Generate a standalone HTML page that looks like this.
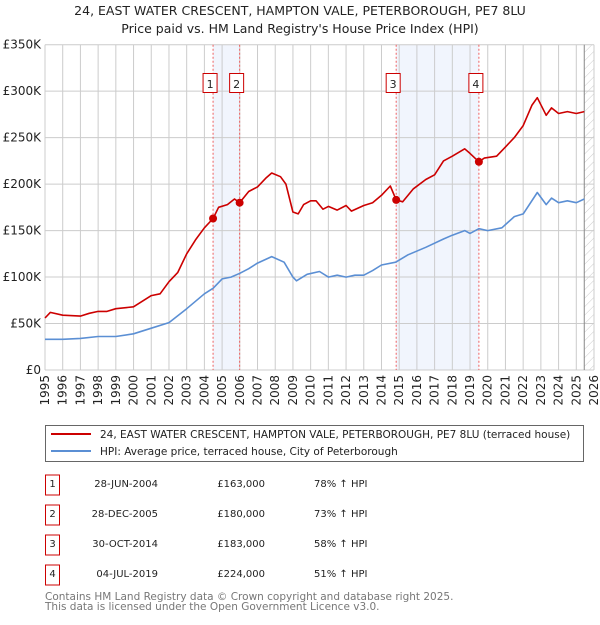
<!DOCTYPE html>
<html><head><meta charset="utf-8"><style>
body{margin:0;background:#fff;font-family:"Liberation Sans","DejaVu Sans",sans-serif;}
svg text{font-family:"DejaVu Sans","Liberation Sans",sans-serif;}
</style></head><body>
<svg id="chart" width="600" height="620" viewBox="0 0 600 620" xmlns="http://www.w3.org/2000/svg">
<defs><pattern id="hatch" width="6" height="6" patternUnits="userSpaceOnUse" patternTransform="rotate(45)"><line x1="0" y1="0" x2="0" y2="6" stroke="#ccc" stroke-width="1"/></pattern></defs>
<text x="300" y="15" text-anchor="middle" font-size="12.5" fill="#222">24, EAST WATER CRESCENT, HAMPTON VALE, PETERBOROUGH, PE7 8LU</text>
<text x="300" y="33" text-anchor="middle" font-size="12.5" fill="#222">Price paid vs. HM Land Registry's House Price Index (HPI)</text>
<g id="plot"></g>
<g id="legend">
<rect x="45.5" y="425.5" width="538" height="36" fill="#fff" stroke="#666"/>
<line x1="51" y1="434" x2="91" y2="434" stroke="#cc0000" stroke-width="2"/>
<text x="100" y="438" font-size="10.5" fill="#222">24, EAST WATER CRESCENT, HAMPTON VALE, PETERBOROUGH, PE7 8LU (terraced house)</text>
<line x1="51" y1="451" x2="91" y2="451" stroke="#5b8fd4" stroke-width="2"/>
<text x="100" y="455" font-size="10.5" fill="#222">HPI: Average price, terraced house, City of Peterborough</text>
</g>
<g id="table" font-size="10" fill="#222"></g>
<text x="45" y="600" font-size="10.5" fill="#777">Contains HM Land Registry data © Crown copyright and database right 2025.</text>
<text x="45" y="610" font-size="10.5" fill="#777">This data is licensed under the Open Government Licence v3.0.</text>
</svg>
<script>
const redT=[1995,1995.3,1996,1997,1997.5,1998,1998.5,1999,2000,2000.5,2001,2001.5,2002,2002.5,2003,2003.5,2004,2004.49,2004.8,2005.3,2005.7,2005.99,2006.5,2007,2007.5,2007.8,2008.3,2008.6,2009,2009.3,2009.6,2010,2010.3,2010.7,2011,2011.5,2012,2012.3,2013,2013.5,2014,2014.5,2014.83,2015.2,2015.8,2016.5,2017,2017.5,2018,2018.7,2019,2019.5,2019.8,2020.5,2021,2021.5,2022,2022.5,2022.8,2023.3,2023.6,2024,2024.5,2025,2025.45];
const redV=[56,62,59,58,61,63,63,66,68,74,80,82,95,105,125,140,153,163,175,178,184,180,192,197,207,212,208,200,170,168,178,182,182,173,176,172,177,171,177,180,188,198,183,181,195,205,210,225,230,238,233,224,228,230,240,250,263,285,293,274,282,276,278,276,278];
const blueT=[1995,1996,1997,1998,1999,2000,2001,2002,2003,2004,2004.5,2005,2005.5,2006,2006.5,2007,2007.8,2008.5,2009,2009.2,2009.8,2010.5,2011,2011.5,2012,2012.5,2013,2013.5,2014,2014.8,2015.5,2016.5,2017.5,2018,2018.7,2019,2019.5,2020,2020.8,2021.5,2022,2022.8,2023.3,2023.6,2024,2024.5,2025,2025.45];
const blueV=[33,33,34,36,36,39,45,51,66,82,88,98,100,104,109,115,122,116,100,96,103,106,100,102,100,102,102,107,113,116,124,132,141,145,150,147,152,150,153,165,168,191,178,185,180,182,180,184];
const saleT=[2004.49,2005.99,2014.83,2019.5];
const saleV=[163,180,183,224];
const saleLabels=["1","2","3","4"];
const saleDates=["28-JUN-2004","28-DEC-2005","30-OCT-2014","04-JUL-2019"];
const salePrices=["£163,000","£180,000","£183,000","£224,000"];
const saleHpi=["78% ↑ HPI","73% ↑ HPI","58% ↑ HPI","51% ↑ HPI"];
const yTicks=[0,50,100,150,200,250,300,350];
const yTickLabels=["£0","£50K","£100K","£150K","£200K","£250K","£300K","£350K"];
const xYears=[1995,1996,1997,1998,1999,2000,2001,2002,2003,2004,2005,2006,2007,2008,2009,2010,2011,2012,2013,2014,2015,2016,2017,2018,2019,2020,2021,2022,2023,2024,2025,2026];

const NS="http://www.w3.org/2000/svg";
const L=45,R=594,T=44.7,B=370;
const xs=y=>L+(y-1995)/(2026-1995)*(R-L);
const ys=v=>B-v/350*(B-T);
function mk(tag,attrs,parent){const e=document.createElementNS(NS,tag);for(const k in attrs)e.setAttribute(k,attrs[k]);parent.appendChild(e);return e;}
const plot=document.getElementById('plot');
for(let i=0;i<4;i+=2){
 const r=mk('rect',{x:xs(saleT[i]),y:T,width:xs(saleT[i+1])-xs(saleT[i]),height:B-T,fill:'#eef3fc',opacity:0.8},plot);
 
 
}
const h=mk('rect',{x:xs(2025.45),y:T,width:R-xs(2025.45),height:B-T,fill:'url(#hatch)'},plot);


yTicks.forEach((v,i)=>{
 const g=mk('line',{x1:L,x2:R,y1:ys(v),y2:ys(v),stroke:'#ccc','stroke-width':1},plot);
 
 
 const t=mk('text',{x:L-4,y:ys(v)+4,'text-anchor':'end','font-size':12,fill:'#222'},plot);
 t.textContent=yTickLabels[i];
 
 
});
xYears.forEach(y=>{
 const g=mk('line',{x1:xs(y),x2:xs(y),y1:T,y2:B,stroke:'#ccc','stroke-width':1},plot);
 
 
 const t=mk('text',{x:0,y:0,'text-anchor':'end','font-size':12,fill:'#222',transform:`translate(${xs(y)+4},${B+5}) rotate(-90)`},plot);
 t.textContent=y;
 
 
});
const hl=mk('line',{x1:xs(2025.45),x2:xs(2025.45),y1:T,y2:B,stroke:'#888','stroke-width':1},plot);


saleT.forEach((t,i)=>{
 const l=mk('line',{x1:xs(t),x2:xs(t),y1:T,y2:B,stroke:'#f06060','stroke-width':1,'stroke-dasharray':'2,2'},plot);
 
 
 const b=mk('rect',{x:xs(t)-10,y:73.5,width:14,height:19,fill:'#fff',stroke:'#cc0000'},plot);
 
 
 const tx=mk('text',{x:xs(t)-3,y:88,'text-anchor':'middle','font-size':11,fill:'#222'},plot);
 tx.textContent=saleLabels[i];
 
 
});
function path(T_,V_,color,name){
 const d=T_.map((t,i)=>(i?'L':'M')+xs(t).toFixed(1)+','+ys(V_[i]).toFixed(1)).join('');
 const p=mk('path',{d:d,fill:'none',stroke:color,'stroke-width':1.6,'stroke-linejoin':'round'},plot);
 
 
}
path(blueT,blueV,'#5b8fd4','hpi-line');
path(redT,redV,'#cc0000','property-price-line');
saleT.forEach((t,i)=>{
 const c=mk('circle',{cx:xs(t),cy:ys(saleV[i]),r:4,fill:'#cc0000'},plot);
 
 
});
const tb=document.getElementById('table');
saleT.forEach((t,i)=>{
 const y=485+i*30;
 const b=mk('rect',{x:45.5,y:y-10,width:14,height:20,fill:'#fff',stroke:'#cc0000'},tb);
 
 
 const n=mk('text',{x:52.5,y:y+2,'text-anchor':'middle'},tb);n.textContent=saleLabels[i];
 
 
 const d=mk('text',{x:158,y:y+2,'text-anchor':'end'},tb);d.textContent=saleDates[i];
 
 
 const p=mk('text',{x:265,y:y+2,'text-anchor':'end'},tb);p.textContent=salePrices[i];
 
 
 const hp=mk('text',{x:314,y:y+2},tb);hp.textContent=saleHpi[i];
 
 
});
</script>
</body></html>
